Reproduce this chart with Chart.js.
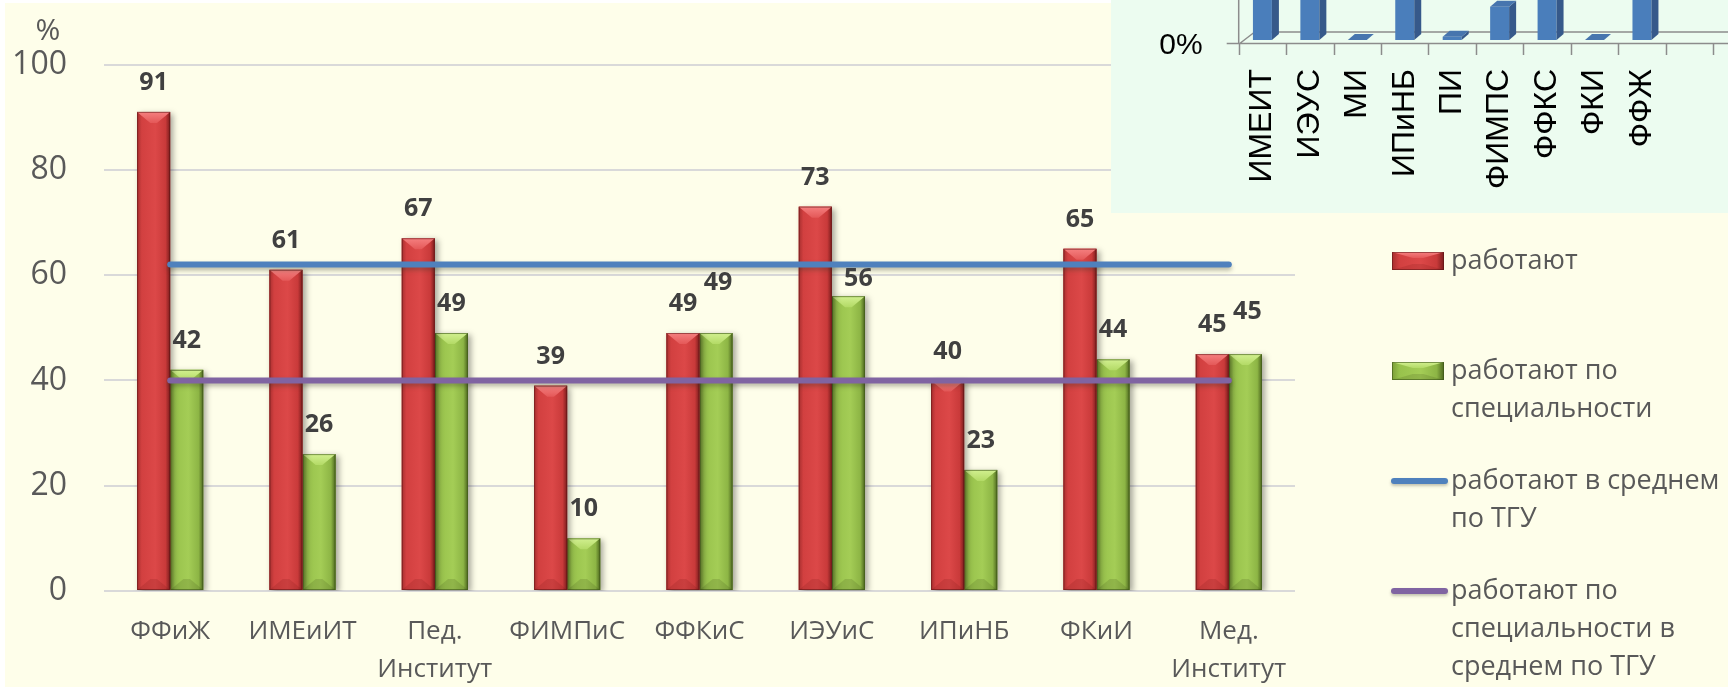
<!DOCTYPE html>
<html>
<head>
<meta charset="utf-8">
<script src="https://cdn.jsdelivr.net/npm/chart.js@4.4.1/dist/chart.umd.min.js"></script>
<style>
  html, body { margin: 0; padding: 0; background: #ffffff; width: 1728px; height: 687px; overflow: hidden; }
  #wrap { position: relative; width: 1728px; height: 687px; overflow: hidden; }
  #main { position: absolute; left: 0; top: 0; }
  #insetBox { position: absolute; left: 1111px; top: 0; width: 697px; height: 213px; }
</style>
</head>
<body>
<div id="wrap">
  <canvas id="main" width="1728" height="687"></canvas>
  <div id="insetBox"><canvas id="inset" width="697" height="213"></canvas></div>
</div>
<script>
// ---------- data ----------
const categories = ['ФФиЖ', 'ИМЕиИТ', ['Пед.', 'Институт'], 'ФИМПиС', 'ФФКиС', 'ИЭУиС', 'ИПиНБ', 'ФКиИ', ['Мед.', 'Институт']];
const employed = [91, 61, 67, 39, 49, 73, 40, 65, 45];
const bySpecialty = [42, 26, 49, 10, 49, 56, 23, 44, 45];
const employedAvgTGU = [62, 62, 62, 62, 62, 62, 62, 62, 62];
const bySpecialtyAvgTGU = [40, 40, 40, 40, 40, 40, 40, 40, 40];
const seriesNames = [
  ['работают'],
  ['работают по', 'специальности'],
  ['работают в среднем', 'по ТГУ'],
  ['работают по', 'специальности в', 'среднем по ТГУ']
];
const yAxisUnit = '%';
const yMin = 0, yMax = 100, yStep = 20;

// inset (pasted fragment of another chart)
const insetCategories = ['ИМЕИТ', 'ИЭУС', 'МИ', 'ИПиНБ', 'ПИ', 'ФИМПС', 'ФФКС', 'ФКИ', 'ФФЖ', '', '', ''];
const insetValues = [62, 70, 0, 48, 1, 10, 66, 0, 85, null, null, null];
const insetTickLabels = ['0%'];

// ---------- styling helpers ----------
const FONT = "'Open Sans', 'DejaVu Sans', sans-serif";
const ARIAL = "'Liberation Sans', Arial, sans-serif";

const palettes = {
  red:   { edgeL: '#A72F2F', body: '#D24040', light: '#DC4848', body2: '#C93A3A', edgeR: '#7A1C1C', top1: '#F58080', top2: '#E45858', bottom: 'rgba(120,20,20,0.18)', outline: 'rgba(90,20,20,0.55)' },
  green: { edgeL: '#7C9E38', body: '#98C24C', light: '#A4CD56', body2: '#8DB545', edgeR: '#4C661E', top1: '#D2F090', top2: '#B3DA66', bottom: 'rgba(60,80,20,0.18)', outline: 'rgba(60,85,25,0.6)' }
};

function drawBevelBar(ctx, left, top, w, h, pal, bevel) {
  if (h <= 0 || w <= 0) return;
  const g = ctx.createLinearGradient(left, 0, left + w, 0);
  g.addColorStop(0, pal.edgeL);
  g.addColorStop(0.14, pal.body);
  g.addColorStop(0.55, pal.light);
  g.addColorStop(0.86, pal.body2);
  g.addColorStop(1, pal.edgeR);
  ctx.fillStyle = g;
  ctx.fillRect(left, top, w, h);
  const b = Math.min(bevel, h / 2);
  const tg = ctx.createLinearGradient(0, top, 0, top + b);
  tg.addColorStop(0, pal.top1);
  tg.addColorStop(1, pal.top2);
  ctx.beginPath();
  ctx.moveTo(left, top);
  ctx.lineTo(left + w, top);
  ctx.lineTo(left + w * 0.6, top + b);
  ctx.lineTo(left + w * 0.4, top + b);
  ctx.closePath();
  ctx.fillStyle = tg;
  ctx.fill();
  ctx.beginPath();
  ctx.moveTo(left, top + h);
  ctx.lineTo(left + w, top + h);
  ctx.lineTo(left + w * 0.6, top + h - b);
  ctx.lineTo(left + w * 0.4, top + h - b);
  ctx.closePath();
  ctx.fillStyle = pal.bottom;
  ctx.fill();
  ctx.strokeStyle = pal.outline;
  ctx.lineWidth = 1;
  ctx.strokeRect(left + 0.5, top + 0.5, w - 1, h - 1);
}

// ---------- main chart plugins ----------
const creamBackground = {
  id: 'creamBackground',
  beforeDraw(chart, args, o) {
    const ctx = chart.ctx;
    ctx.save();
    ctx.fillStyle = '#FFFFFF';
    ctx.fillRect(0, 0, chart.width, chart.height);
    ctx.fillStyle = o.color;
    ctx.fillRect(o.left, o.top, chart.width - o.left, chart.height - o.top);
    ctx.restore();
  }
};

const fancyMarks = {
  id: 'fancyMarks',
  beforeDatasetDraw(chart, args) {
    const ctx = chart.ctx;
    const ds = chart.data.datasets[args.index];
    ctx.save();
    if (ds.type === 'bar') {
      ctx.shadowColor = 'rgba(0,0,0,0.35)';
      ctx.shadowBlur = 6;
      ctx.shadowOffsetX = 3;
      ctx.shadowOffsetY = 2;
    } else {
      ctx.shadowColor = 'rgba(60,60,40,0.35)';
      ctx.shadowBlur = 4;
      ctx.shadowOffsetX = 0;
      ctx.shadowOffsetY = 3;
    }
  },
  afterDatasetDraw(chart, args, o) {
    const ctx = chart.ctx;
    ctx.restore();
    const ds = chart.data.datasets[args.index];
    if (ds.type !== 'bar') return;
    const pal = palettes[o.paletteFor[args.index]];
    ctx.save();
    args.meta.data.forEach(el => {
      const p = el.getProps(['x', 'y', 'base', 'width'], true);
      const left = p.x - p.width / 2;
      const top = Math.min(p.y, p.base);
      const h = Math.abs(p.base - p.y);
      drawBevelBar(ctx, left, top, p.width, h, pal, 11);
    });
    ctx.restore();
  }
};

const valueLabels = {
  id: 'valueLabels',
  afterDatasetsDraw(chart, args, o) {
    const ctx = chart.ctx;
    ctx.save();
    ctx.font = 'bold 25px ' + FONT;
    ctx.fillStyle = '#404040';
    ctx.textAlign = 'center';
    ctx.textBaseline = 'middle';
    chart.data.datasets.forEach((ds, di) => {
      if (ds.type !== 'bar') return;
      const meta = chart.getDatasetMeta(di);
      const nudges = o.nudge[di] || {};
      meta.data.forEach((el, i) => {
        const n = nudges[i] || [0, 0];
        ctx.fillText(String(ds.data[i]), el.x + n[0], el.y - o.gap + n[1]);
      });
    });
    ctx.restore();
  }
};

const unitLabel = {
  id: 'unitLabel',
  afterDraw(chart, args, o) {
    const ctx = chart.ctx;
    ctx.save();
    ctx.font = '30px ' + FONT;
    ctx.fillStyle = '#595959';
    ctx.textAlign = 'center';
    ctx.textBaseline = 'middle';
    ctx.fillText(o.text, o.x, o.y);
    ctx.restore();
  }
};

const sideLegend = {
  id: 'sideLegend',
  afterDraw(chart, args, o) {
    const ctx = chart.ctx;
    ctx.save();
    chart.data.datasets.forEach((ds, i) => {
      const cy = o.top + i * o.pitch;
      if (ds.type === 'bar') {
        drawBevelBar(ctx, o.x, cy - 9, o.swatchW, 18, palettes[o.paletteFor[i]], 6);
      } else {
        ctx.save();
        ctx.shadowColor = 'rgba(60,60,40,0.3)';
        ctx.shadowBlur = 3;
        ctx.shadowOffsetY = 2;
        ctx.strokeStyle = ds.borderColor;
        ctx.lineWidth = 6;
        ctx.lineCap = 'round';
        ctx.beginPath();
        ctx.moveTo(o.x + 2, cy);
        ctx.lineTo(o.x + o.swatchW + 1, cy);
        ctx.stroke();
        ctx.restore();
      }
      ctx.font = o.size + 'px ' + FONT;
      ctx.fillStyle = '#595959';
      ctx.textAlign = 'left';
      ctx.textBaseline = 'middle';
      seriesNames[i].forEach((line, k) => {
        ctx.fillText(line, o.textX, cy + k * o.lineH);
      });
    });
    ctx.restore();
  }
};

function zeroPadding(s) { s.paddingTop = 0; s.paddingBottom = 0; s.paddingLeft = 0; s.paddingRight = 0; }

new Chart(document.getElementById('main'), {
  type: 'bar',
  data: {
    labels: categories,
    datasets: [
      { type: 'bar', label: seriesNames[0].join(' '), data: employed, backgroundColor: '#D24040', categoryPercentage: 0.5, barPercentage: 1.0, order: 2 },
      { type: 'bar', label: seriesNames[1].join(' '), data: bySpecialty, backgroundColor: '#98C24C', categoryPercentage: 0.5, barPercentage: 1.0, order: 3 },
      { type: 'line', label: seriesNames[2].join(' '), data: employedAvgTGU, borderColor: '#4F81BD', borderWidth: 6, borderCapStyle: 'round', pointRadius: 0, fill: false, order: 1 },
      { type: 'line', label: seriesNames[3].join(' '), data: bySpecialtyAvgTGU, borderColor: '#8064A2', borderWidth: 6, borderCapStyle: 'round', pointRadius: 0, fill: false, order: 0 }
    ]
  },
  options: {
    responsive: false,
    animation: false,
    devicePixelRatio: 1,
    layout: { padding: { top: 64.5, right: 433, bottom: 0, left: 0 } },
    plugins: {
      legend: { display: false },
      tooltip: { enabled: false },
      creamBackground: { color: '#FEFEEA', left: 5, top: 3 },
      fancyMarks: { paletteFor: { 0: 'red', 1: 'green' } },
      valueLabels: { gap: 29, nudge: { 1: { 4: [2, -21], 5: [10, 12], 8: [2, -13] } } },
      unitLabel: { text: yAxisUnit, x: 48, y: 31 },
      sideLegend: { x: 1392, top: 261, pitch: 110, swatchW: 52, textX: 1451, lineH: 38, size: 27, paletteFor: { 0: 'red', 1: 'green' } }
    },
    scales: {
      x: {
        grid: { display: false, drawTicks: false },
        border: { display: false },
        ticks: { font: { family: FONT, size: 26, lineHeight: 1.45 }, color: '#595959', padding: 22, autoSkip: false, maxRotation: 0, minRotation: 0 },
        afterFit: s => { s.height = 96; zeroPadding(s); }
      },
      y: {
        min: yMin, max: yMax,
        ticks: { stepSize: yStep, font: { family: FONT, size: 32 }, color: '#595959', padding: 37 },
        grid: { color: '#D9D9D9', lineWidth: 2, drawTicks: false },
        border: { display: false },
        afterFit: s => { s.width = 104; zeroPadding(s); }
      }
    }
  },
  plugins: [creamBackground, fancyMarks, valueLabels, unitLabel, sideLegend]
});

// ---------- inset chart ----------
const insetBackground = {
  id: 'insetBackground',
  beforeDraw(chart) {
    const ctx = chart.ctx;
    ctx.save();
    ctx.fillStyle = '#ECFCF0';
    ctx.fillRect(0, 0, chart.width, chart.height);
    ctx.restore();
  }
};

const insetFrame = {
  id: 'insetFrame',
  beforeDatasetsDraw(chart) {
    const ctx = chart.ctx;
    const a = chart.chartArea;
    const n = chart.data.labels.length;
    const cw = (a.right - a.left) / n;
    ctx.save();
    ctx.strokeStyle = '#8C8C8C';
    ctx.lineWidth = 1.5;
    ctx.beginPath();
    ctx.moveTo(a.left - 12, a.bottom + 3.5);
    ctx.lineTo(chart.width, a.bottom + 3.5);
    ctx.moveTo(a.left + 16, a.bottom - 8);
    ctx.lineTo(chart.width, a.bottom - 8);
    ctx.moveTo(a.left + 1, a.bottom + 3.5);
    ctx.lineTo(a.left + 16, a.bottom - 8);
    ctx.moveTo(a.left, 0);
    ctx.lineTo(a.left, a.bottom + 3.5);
    for (let k = 0; k <= n; k++) {
      const x = Math.round(a.left + k * cw) + 0.5;
      ctx.moveTo(x, a.bottom + 3.5);
      ctx.lineTo(x, a.bottom + 15);
    }
    ctx.stroke();
    ctx.restore();
  },
  afterDatasetsDraw(chart) {
    const ctx = chart.ctx;
    const meta = chart.getDatasetMeta(0);
    const dx = 7, dy = -6;
    ctx.save();
    meta.data.forEach((el, i) => {
      if (insetValues[i] === null) return;
      const p = el.getProps(['x', 'y', 'base', 'width'], true);
      const l = p.x - p.width / 2, r = p.x + p.width / 2;
      ctx.beginPath();
      ctx.moveTo(r, p.y);
      ctx.lineTo(r + dx, p.y + dy);
      ctx.lineTo(r + dx, p.base + dy);
      ctx.lineTo(r, p.base);
      ctx.closePath();
      ctx.fillStyle = '#36598A';
      ctx.fill();
      ctx.beginPath();
      ctx.moveTo(l, p.y);
      ctx.lineTo(l + dx, p.y + dy);
      ctx.lineTo(r + dx, p.y + dy);
      ctx.lineTo(r, p.y);
      ctx.closePath();
      ctx.fillStyle = '#4775AE';
      ctx.fill();
    });
    ctx.restore();
  }
};

new Chart(document.getElementById('inset'), {
  type: 'bar',
  data: {
    labels: insetCategories,
    datasets: [{ data: insetValues, backgroundColor: '#4A7EBB', categoryPercentage: 0.4, barPercentage: 1.0 }]
  },
  options: {
    responsive: false,
    animation: false,
    devicePixelRatio: 1,
    layout: { padding: 0 },
    plugins: { legend: { display: false }, tooltip: { enabled: false } },
    scales: {
      x: {
        grid: { display: false, drawTicks: false },
        border: { display: false },
        ticks: { font: { family: ARIAL, size: 32 }, color: '#000000', minRotation: 90, maxRotation: 90, autoSkip: false, padding: 29 },
        afterFit: s => { s.height = 173; zeroPadding(s); }
      },
      y: {
        min: 0, max: 12,
        afterBuildTicks: s => { s.ticks = [{ value: 0 }]; },
        ticks: { callback: (v, i) => insetTickLabels[i], font: { family: ARIAL, size: 30 }, color: '#000000', padding: 36, labelOffset: 6 },
        grid: { display: false, drawTicks: false },
        border: { display: false },
        afterFit: s => { s.width = 127.7; zeroPadding(s); }
      }
    }
  },
  plugins: [insetBackground, insetFrame]
});
</script>
</body>
</html>
